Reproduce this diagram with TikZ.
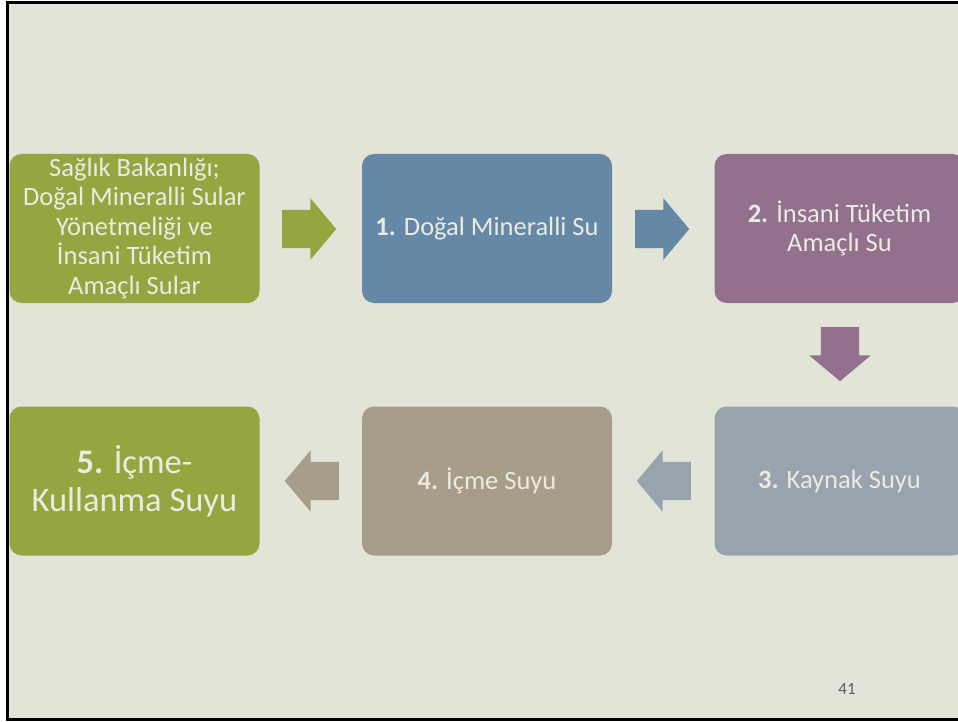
\documentclass[tikz,border=0pt]{standalone}
\usepackage{fontspec}
\setmainfont{Carlito}
\usetikzlibrary{shapes.arrows}
\definecolor{slidebg}{RGB}{226,228,216}
\definecolor{boxgreen}{RGB}{149,165,63}
\definecolor{boxblue}{RGB}{100,136,166}
\definecolor{boxpurple}{RGB}{147,112,142}
\definecolor{boxgrey}{RGB}{151,163,173}
\definecolor{boxtan}{RGB}{168,157,137}
\definecolor{boxtext}{RGB}{234,236,226}
\definecolor{pagenum}{RGB}{90,96,100}
\tikzset{
  stepbox/.style={rectangle, rounded corners=12pt, minimum width=250pt,
    minimum height=149pt, inner sep=0pt, align=center, text=boxtext,
    font=\fontsize{26.5}{29.5}\selectfont},
  blockarrow/.style={single arrow, minimum height=54pt, inner xsep=0pt,
    inner ysep=19pt, single arrow head extend=11.5pt, single arrow tip angle=100,
    single arrow head indent=0pt, anchor=tail}
}

\begin{document}
\begin{tikzpicture}[x=1pt, y=-1pt]
\useasboundingbox (0,0) rectangle (958,722);
\clip (0,0) rectangle (958,722);
% Slide
    \fill[white] (0,0) rectangle (958,722);
    \fill[slidebg] (7,3) rectangle (960,719);
    \draw[line width=3pt, black] (960,3) -- (7,3) -- (7,719) -- (960,719);
% Boxes, top row
    \node[stepbox, fill=boxgreen] (yonetmelik) at (134.5,228.5)
      {Sağlık Bakanlığı;\\Doğal Mineralli Sular\\Yönetmeliği ve\\İnsani Tüketim\\Amaçlı Sular};
    \node[stepbox, fill=boxblue] (mineral) at (487,228.5)
      {\textbf{1.} Doğal Mineralli Su};
    \node[stepbox, fill=boxpurple] (insani) at (839.5,228.5)
      {\textbf{2.} İnsani Tüketim\\Amaçlı Su};
% Boxes, bottom row
    \node[stepbox, fill=boxgrey] (kaynak) at (839.5,481)
      {\textbf{3.} Kaynak Suyu};
    \node[stepbox, fill=boxtan] (icme) at (487,481)
      {\textbf{4.} İçme Suyu};
    \node[stepbox, fill=boxgreen, font=\fontsize{34.5}{38.5}\selectfont] (kullanma) at (134.5,481)
      {\textbf{5.} İçme-\\Kullanma Suyu};
% Arrows (placed by their tails)
    \node[blockarrow, fill=boxgreen] (ok1) at (282,229) {};
    \node[blockarrow, fill=boxblue] (ok2) at (635,229) {};
    \node[blockarrow, fill=boxpurple, rotate=-90] (ok3) at (840,327) {};
    \node[blockarrow, fill=boxgrey, rotate=180] (ok4) at (691,481) {};
    \node[blockarrow, fill=boxtan, rotate=180] (ok5) at (339,481) {};
% Page number
    \node[text=pagenum, font=\fontsize{17}{19}\selectfont] (sayfa) at (847,689) {41};
\end{tikzpicture}
\end{document}
